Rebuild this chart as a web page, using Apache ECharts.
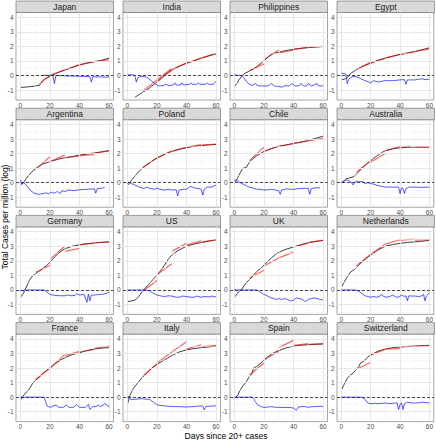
<!DOCTYPE html>
<html><head><meta charset="utf-8">
<script src="https://cdn.jsdelivr.net/npm/echarts@6/dist/echarts.min.js"></script>
<style>html,body{margin:0;padding:0;background:#fff}#c{width:436px;height:440px}</style>
</head><body><div id="c"></div>
<script>
const countries = ["Japan","India","Philippines","Egypt","Argentina","Poland","Chile","Australia","Germany","US","UK","Netherlands","France","Italy","Spain","Switzerland"];
const xTicks = [0,20,40,60];
const xMinor = [10,30,50];
const yTicks = [-1,0,1,2,3,4];
const yMinor = [-1.5,-0.5,0.5,1.5,2.5,3.5];

// Japan
const japanTotal = [[0,-0.82],[5,-0.78],[10,-0.72],[13,-0.66],[14,-0.5],[15,-0.38],[17,-0.2],[20,-0.05],[22,0.05],[25,0.18],[30,0.38],[35,0.55],[40,0.72],[45,0.85],[50,0.95],[55,1.05],[60,1.2]];
const japanFit = [[[13,-0.6],[16,-0.3],[20,-0.05]],[[20,0.02],[30,0.4]],[[30,0.4],[40,0.75]],[[40,0.75],[50,0.95]],[[50,0.95],[60,1.08]]];
const japanGrowth = [[14,0.0],[20,0.02],[22,0.0],[23,-0.55],[24,0.0],[30,-0.02],[40,-0.05],[47,-0.08],[48,-0.45],[49,-0.08],[55,-0.1],[60,-0.1]];
// India
const indiaTotal = [[5,-1.5],[8,-1.3],[11,-1.1],[13,-1.0],[15,-0.85],[18,-0.6],[20,-0.45],[23,-0.2],[25,0.0],[28,0.25],[30,0.4],[35,0.65],[40,0.85],[45,1.0],[50,1.2],[55,1.35],[60,1.5]];
const indiaFit = [[[10,-1.1],[30,0.5]],[[20,-0.4],[30,0.35],[40,0.85]],[[40,0.85],[50,1.2],[60,1.5]]];
const indiaGrowth = [[0,0.05],[4,0.05],[5,0.0],[6,-0.45],[7,-0.15],[9,-0.05],[13,-0.1],[16,-0.35],[19,-0.6],[21,-0.7],[24,-0.7],[26,-0.6],[28,-0.7],[31,-0.65],[32,-0.5],[33,-0.65],[36,-0.65],[37,-0.5],[38,-0.65],[42,-0.6],[43,-0.5],[44,-0.6],[47,-0.6],[48,-0.5],[49,-0.6],[53,-0.6],[54,-0.5],[55,-0.6],[58,-0.6],[60,-0.4]];
// Philippines
const philippinesTotal = [[0,-0.75],[2,-0.5],[3,-0.3],[5,-0.05],[7,0.15],[10,0.3],[12,0.4],[15,0.6],[18,0.85],[20,1.0],[23,1.3],[26,1.5],[30,1.6],[35,1.72],[40,1.8],[45,1.87],[50,1.92],[55,1.96],[60,2.0]];
const philippinesFit = [[[10,0.35],[20,0.8]],[[20,1.1],[30,1.75]],[[30,1.55],[40,1.75]],[[40,1.8],[50,1.93]],[[50,1.93],[60,2.0]]];
const philippinesGrowth = [[0,0.05],[3,0.0],[5,0.0],[6,-0.1],[8,-0.4],[10,-0.6],[12,-0.68],[14,-0.55],[16,-0.7],[20,-0.72],[23,-0.7],[25,-0.55],[27,-0.72],[30,-0.75],[32,-0.8],[34,-0.7],[37,-0.72],[39,-0.55],[41,-0.72],[44,-0.7],[45,-0.55],[47,-0.72],[49,-0.7],[50,-0.55],[52,-0.72],[55,-0.6],[56,-0.55],[57,-0.72],[60,-0.7]];
// Egypt
const egyptTotal = [[0,-0.3],[2,-0.25],[3,-0.2],[4,-0.15],[5,0.0],[7,0.2],[8,0.25],[10,0.4],[13,0.55],[15,0.65],[20,0.85],[25,1.05],[30,1.2],[35,1.33],[40,1.45],[45,1.55],[50,1.65],[55,1.78],[60,1.9]];
const egyptFit = [[[10,0.4],[20,0.92]],[[20,0.85],[30,1.2]],[[30,1.2],[40,1.45]],[[40,1.45],[50,1.62]],[[50,1.65],[60,1.82]]];
const egyptGrowth = [[0,0.15],[2,0.14],[3,0.1],[4,-0.55],[5,-0.25],[7,-0.1],[8,-0.05],[10,-0.08],[13,-0.2],[16,-0.35],[19,-0.45],[20,-0.5],[22,-0.35],[25,-0.45],[28,-0.38],[30,-0.35],[35,-0.35],[40,-0.3],[43,-0.28],[44,-0.6],[45,-0.3],[50,-0.3],[53,-0.25],[55,-0.22],[57,-0.28],[60,-0.25]];
// Argentina
const argentinaTotal = [[0,-0.15],[2,0.0],[4,0.3],[6,0.55],[8,0.78],[10,0.95],[12,1.1],[15,1.28],[20,1.45],[25,1.6],[30,1.72],[35,1.8],[40,1.9],[45,1.97],[50,2.05],[55,2.12],[60,2.2]];
const argentinaFit = [[[10,0.9],[20,1.78]],[[20,1.45],[30,1.9]],[[30,1.7],[40,1.85]],[[40,1.85],[50,1.95]],[[50,2.02],[60,2.2]]];
const argentinaGrowth = [[0,0.2],[1,-0.1],[2,0.0],[3,-0.05],[5,-0.3],[7,-0.55],[9,-0.7],[12,-0.8],[15,-0.75],[17,-0.7],[19,-0.75],[21,-0.65],[23,-0.72],[25,-0.6],[27,-0.75],[28,-0.55],[30,-0.6],[33,-0.5],[36,-0.55],[40,-0.48],[45,-0.45],[50,-0.42],[51,-0.72],[52,-0.4],[55,-0.38],[57,-0.32]];
// Poland
const polandTotal = [[0,-0.2],[1,-0.05],[3,0.2],[5,0.45],[8,0.8],[10,1.0],[13,1.25],[15,1.38],[20,1.7],[25,1.95],[30,2.15],[35,2.3],[40,2.4],[45,2.5],[50,2.55],[55,2.6],[60,2.63]];
const polandFit = [[[10,1.0],[20,1.72]],[[20,1.7],[30,2.2]],[[30,2.15],[40,2.45]],[[40,2.45],[50,2.62]],[[50,2.58],[60,2.66]]];
const polandGrowth = [[0,-0.05],[1,0.05],[2,-0.05],[4,-0.1],[6,-0.2],[8,-0.3],[11,-0.4],[13,-0.3],[15,-0.38],[18,-0.45],[20,-0.38],[22,-0.45],[25,-0.5],[28,-0.45],[30,-0.5],[33,-0.48],[34,-0.9],[35,-0.5],[38,-0.45],[40,-0.45],[42,-0.3],[43,-0.25],[45,-0.35],[48,-0.4],[50,-0.45],[51,-0.85],[52,-0.45],[54,-0.3],[57,-0.3],[60,-0.15]];
// Chile
const chileTotal = [[0,0.0],[1,0.1],[2,0.3],[4,0.7],[5,0.9],[6,1.0],[8,1.05],[10,1.4],[12,1.6],[15,1.85],[20,2.15],[25,2.35],[30,2.5],[35,2.6],[40,2.7],[45,2.8],[50,2.9],[55,3.05],[60,3.2]];
const chileFit = [[[10,1.5],[20,2.45]],[[20,2.15],[30,2.52]],[[30,2.5],[40,2.68]],[[40,2.7],[50,2.85]],[[50,2.88],[60,3.05]]];
const chileGrowth = [[0,0.15],[1,0.2],[3,0.05],[5,-0.05],[8,-0.2],[10,-0.3],[13,-0.38],[15,-0.45],[18,-0.45],[20,-0.5],[23,-0.48],[25,-0.45],[28,-0.5],[30,-0.55],[31,-0.8],[32,-0.5],[35,-0.42],[38,-0.45],[40,-0.45],[43,-0.4],[45,-0.4],[48,-0.38],[50,-0.4],[51,-0.8],[52,-0.4],[55,-0.35],[58,-0.35]];
// Australia
const australiaTotal = [[0,0.0],[2,0.15],[3,0.25],[5,0.32],[8,0.4],[10,0.55],[12,0.78],[15,1.1],[18,1.35],[20,1.5],[22,1.68],[25,1.9],[28,2.1],[30,2.2],[35,2.33],[40,2.4],[45,2.43],[50,2.45],[55,2.45],[60,2.45]];
const australiaFit = [[[10,0.7],[20,1.52]],[[20,1.4],[30,2.02]],[[30,2.2],[40,2.5]],[[40,2.45],[47,2.52]],[[50,2.45],[60,2.45]]];
const australiaGrowth = [[0,0.0],[2,0.1],[3,0.2],[5,0.15],[7,0.0],[8,-0.15],[9,0.0],[10,0.1],[12,0.05],[14,0.1],[16,-0.05],[18,0.0],[20,-0.05],[22,-0.1],[25,-0.2],[28,-0.25],[30,-0.3],[35,-0.3],[39,-0.3],[40,-0.75],[41,-0.35],[42,-0.4],[43,-0.75],[44,-0.4],[46,-0.3],[50,-0.3],[55,-0.32],[60,-0.3]];
// Germany
const germanyTotal = [[0,-0.5],[2,-0.25],[3,0.0],[4,0.2],[6,0.65],[8,0.95],[10,1.1],[12,1.25],[15,1.45],[18,1.7],[20,1.9],[23,2.25],[25,2.45],[28,2.7],[30,2.82],[35,3.0],[40,3.1],[45,3.18],[50,3.22],[55,3.27],[60,3.3]];
const germanyFit = [[[10,1.2],[20,1.68]],[[20,2.1],[30,3.0]],[[30,2.65],[40,2.85]],[[40,3.1],[50,3.22]],[[50,3.24],[60,3.3]]];
const germanyGrowth = [[0,-0.05],[2,-0.05],[3,0.0],[10,0.0],[16,0.0],[18,-0.15],[20,-0.3],[23,-0.38],[27,-0.4],[30,-0.4],[32,-0.35],[34,-0.4],[37,-0.38],[38,-0.25],[40,-0.35],[43,-0.3],[45,-0.85],[46,-0.3],[47,-0.75],[48,-0.35],[50,-0.35],[53,-0.32],[55,-0.3],[58,-0.25],[60,-0.15]];
// US
const usTotal = [[0,-0.8],[3,-0.75],[5,-0.7],[7,-0.55],[8,-0.4],[10,-0.1],[12,0.1],[15,0.45],[18,0.8],[20,1.0],[23,1.4],[25,1.7],[28,2.15],[30,2.4],[35,2.75],[40,3.0],[45,3.15],[50,3.25],[55,3.35],[60,3.45]];
const usFit = [[[10,-0.1],[20,0.65]],[[20,1.05],[30,1.8]],[[30,2.65],[40,3.2]],[[40,3.1],[50,3.37]],[[50,3.28],[60,3.45]]];
const usGrowth = [[0,0.0],[10,0.0],[13,-0.02],[15,-0.05],[17,-0.2],[20,-0.35],[23,-0.42],[25,-0.45],[28,-0.4],[30,-0.42],[33,-0.5],[35,-0.5],[37,-0.42],[40,-0.45],[43,-0.5],[45,-0.5],[47,-0.42],[50,-0.5],[52,-0.45],[55,-0.48],[57,-0.42],[60,-0.48]];
// UK
const ukTotal = [[0,-0.5],[2,-0.25],[3,-0.1],[5,0.05],[7,0.35],[8,0.5],[10,0.7],[12,0.9],[15,1.25],[18,1.5],[20,1.7],[23,2.0],[25,2.2],[28,2.45],[30,2.58],[35,2.8],[40,2.95],[45,3.1],[50,3.25],[55,3.33],[60,3.4]];
const ukFit = [[[10,0.8],[20,1.35]],[[20,1.65],[30,2.2]],[[30,2.2],[40,2.6]],[[40,2.95],[50,3.22]],[[50,3.25],[60,3.42]]];
const ukGrowth = [[0,0.0],[15,0.0],[17,-0.1],[19,-0.25],[21,-0.35],[23,-0.45],[25,-0.55],[27,-0.6],[28,-0.65],[30,-0.6],[32,-0.65],[34,-0.6],[36,-0.65],[38,-0.75],[40,-0.7],[42,-0.55],[44,-0.6],[46,-0.65],[48,-0.8],[50,-0.65],[52,-0.6],[54,-0.55],[56,-0.6],[58,-0.65],[60,-0.7]];
// Netherlands
const netherlandsTotal = [[0,0.2],[2,0.55],[4,0.9],[6,1.2],[8,1.35],[10,1.5],[12,1.75],[15,2.0],[18,2.25],[20,2.4],[23,2.6],[25,2.75],[28,2.9],[30,3.0],[35,3.12],[40,3.2],[45,3.27],[50,3.3],[55,3.35],[60,3.4]];
const netherlandsFit = [[[10,1.65],[20,2.45]],[[20,2.45],[30,3.15]],[[30,3.15],[40,3.45]],[[40,3.4],[50,3.5]],[[50,3.42],[60,3.45]]];
const netherlandsGrowth = [[0,0.0],[10,0.0],[12,-0.1],[14,-0.25],[16,-0.4],[18,-0.45],[20,-0.5],[22,-0.45],[24,-0.5],[26,-0.45],[27,-0.3],[29,-0.45],[31,-0.5],[33,-0.45],[35,-0.35],[37,-0.48],[39,-0.5],[41,-0.35],[43,-0.45],[44,-0.4],[45,-0.75],[46,-0.4],[48,-0.42],[50,-0.42],[53,-0.45],[55,-0.4],[56,-0.3],[57,-0.75],[58,-0.4],[60,-0.2]];
// France
const franceTotal = [[0,-0.2],[2,0.1],[4,0.35],[6,0.55],[8,0.9],[10,1.15],[12,1.3],[15,1.6],[18,1.85],[20,2.0],[23,2.25],[25,2.4],[28,2.6],[30,2.7],[35,2.92],[40,3.05],[45,3.2],[50,3.3],[55,3.37],[60,3.4]];
const franceFit = [[[10,1.2],[20,2.0]],[[20,2.0],[30,2.9]],[[30,2.85],[40,3.15]],[[40,3.1],[50,3.28]],[[50,3.35],[60,3.5]]];
const franceGrowth = [[0,0.0],[16,0.0],[17,-0.3],[18,-0.6],[20,-0.7],[22,-0.62],[24,-0.55],[26,-0.7],[29,-0.7],[31,-0.55],[33,-0.7],[36,-0.7],[38,-0.5],[40,-0.7],[44,-0.7],[46,-0.5],[47,-0.85],[49,-0.65],[51,-0.65],[53,-0.55],[54,-0.65],[56,-0.55],[57,-0.45],[59,-0.55],[60,-0.7]];
// Italy
const italyTotal = [[0,-0.5],[1,-0.1],[2,0.2],[4,0.6],[6,0.85],[8,1.1],[10,1.35],[13,1.65],[15,1.85],[18,2.1],[20,2.25],[25,2.55],[30,2.85],[35,3.1],[40,3.25],[45,3.33],[50,3.4],[55,3.45],[60,3.5]];
const italyFit = [[[10,1.4],[20,2.3]],[[20,2.35],[30,3.1]],[[30,3.1],[40,3.8]],[[40,3.3],[50,3.6]],[[50,3.45],[60,3.55]]];
const italyGrowth = [[0,0.0],[1,0.05],[2,-0.15],[5,-0.15],[8,-0.12],[10,-0.1],[13,-0.15],[15,-0.15],[17,-0.3],[19,-0.45],[21,-0.55],[25,-0.6],[30,-0.65],[35,-0.65],[40,-0.68],[45,-0.65],[50,-0.6],[51,-0.62],[52,-0.88],[53,-0.65],[56,-0.62],[60,-0.6]];
// Spain
const spainTotal = [[0,-0.1],[2,0.1],[4,0.5],[6,0.8],[8,1.05],[10,1.4],[12,1.65],[13,2.0],[15,2.1],[18,2.35],[20,2.55],[23,2.8],[25,2.95],[28,3.12],[30,3.2],[35,3.38],[40,3.5],[45,3.57],[50,3.6],[55,3.63],[60,3.65]];
const spainFit = [[[10,1.5],[20,2.35]],[[20,2.55],[30,3.15]],[[30,3.4],[40,3.9]],[[40,3.55],[50,3.67]],[[50,3.62],[60,3.67]]];
const spainGrowth = [[0,0.0],[12,0.0],[13,-0.1],[14,-0.3],[16,-0.55],[18,-0.65],[20,-0.7],[23,-0.68],[25,-0.65],[28,-0.7],[30,-0.7],[33,-0.72],[35,-0.7],[38,-0.72],[40,-0.75],[42,-0.9],[43,-0.7],[45,-0.65],[48,-0.65],[50,-0.7],[53,-0.65],[55,-0.65],[58,-0.62],[60,-0.65]];
// Switzerland
const switzerlandTotal = [[0,0.5],[2,0.9],[4,1.3],[6,1.5],[8,1.65],[10,1.9],[12,2.1],[13,2.35],[15,2.45],[18,2.75],[20,2.9],[23,3.05],[25,3.15],[28,3.25],[30,3.3],[35,3.4],[40,3.45],[45,3.48],[50,3.5],[55,3.53],[60,3.55]];
const switzerlandFit = [[[10,1.9],[20,2.4]],[[20,2.9],[30,3.3]],[[30,3.3],[40,3.35]],[[40,3.45],[50,3.5]],[[50,3.5],[60,3.55]]];
const switzerlandGrowth = [[0,0.0],[14,0.0],[16,-0.15],[18,-0.4],[20,-0.45],[23,-0.42],[25,-0.45],[28,-0.42],[30,-0.4],[33,-0.45],[35,-0.42],[38,-0.4],[39,-0.85],[40,-0.5],[41,-0.4],[42,-0.85],[43,-0.45],[45,-0.35],[48,-0.4],[50,-0.4],[53,-0.38],[55,-0.35],[58,-0.38],[60,-0.4]];

const totals = [japanTotal,indiaTotal,philippinesTotal,egyptTotal,argentinaTotal,polandTotal,chileTotal,australiaTotal,germanyTotal,usTotal,ukTotal,netherlandsTotal,franceTotal,italyTotal,spainTotal,switzerlandTotal];
const fits = [japanFit,indiaFit,philippinesFit,egyptFit,argentinaFit,polandFit,chileFit,australiaFit,germanyFit,usFit,ukFit,netherlandsFit,franceFit,italyFit,spainFit,switzerlandFit];
const growths = [japanGrowth,indiaGrowth,philippinesGrowth,egyptGrowth,argentinaGrowth,polandGrowth,chileGrowth,australiaGrowth,germanyGrowth,usGrowth,ukGrowth,netherlandsGrowth,franceGrowth,italyGrowth,spainGrowth,switzerlandGrowth];

const FONT = '"Liberation Sans", Arial, sans-serif';
const chart = echarts.init(document.getElementById('c'), null, {renderer: 'svg'});
const grids = [], xAxes = [], yAxes = [], series = [], graphics = [];
const W = 97.5, H = 87.5, STRIP = 11.5;

countries.forEach((name, i) => {
  const r = Math.floor(i / 4), c = i % 4;
  const left = 16 + c * 107, top = 12.5 + r * 107.2;
  grids.push({left: left, top: top, width: W, height: H, show: true, backgroundColor: '#fff', borderColor: '#666', borderWidth: 0.6});
  graphics.push({type: 'rect', silent: true, shape: {x: left, y: top - STRIP, width: W, height: STRIP},
    style: {fill: '#D9D9D9', stroke: '#666', lineWidth: 0.6}});
  graphics.push({type: 'text', silent: true, x: left + W / 2, y: top - STRIP / 2,
    style: {text: name, fill: '#1A1A1A', font: '8.5px ' + FONT, align: 'center', verticalAlign: 'middle', textAlign: 'center', textVerticalAlign: 'middle'}});
  xAxes.push({gridIndex: i, type: 'value', min: -3, max: 63,
    axisLine: {show: false},
    axisTick: {show: true, length: 2, customValues: xTicks, lineStyle: {color: '#444', width: 0.6}},
    axisLabel: {customValues: xTicks, fontSize: 6.5, color: '#4D4D4D', margin: 1.5, fontFamily: FONT},
    splitLine: {show: false}});
  yAxes.push({gridIndex: i, type: 'value', min: -1.68, max: 4.33,
    axisLine: {show: false},
    axisTick: {show: true, length: 2, customValues: yTicks, lineStyle: {color: '#444', width: 0.6}},
    axisLabel: {customValues: yTicks, fontSize: 6.5, color: '#4D4D4D', margin: 2.5, fontFamily: FONT},
    splitLine: {show: false}});
  const gridLines = [];
  xMinor.forEach(v => gridLines.push({xAxis: v, lineStyle: {color: '#F0F0F0', width: 0.5, type: 'solid'}}));
  yMinor.forEach(v => gridLines.push({yAxis: v, lineStyle: {color: '#F0F0F0', width: 0.5, type: 'solid'}}));
  xTicks.forEach(v => gridLines.push({xAxis: v, lineStyle: {color: '#E4E4E4', width: 0.9, type: 'solid'}}));
  yTicks.forEach(v => gridLines.push({yAxis: v, lineStyle: {color: '#E4E4E4', width: 0.9, type: 'solid'}}));
  series.push({type: 'line', xAxisIndex: i, yAxisIndex: i, data: [[0, 0]], symbol: 'none', silent: true, z: 1,
    lineStyle: {opacity: 0},
    markLine: {silent: true, symbol: ['none', 'none'], label: {show: false}, animation: false, data: gridLines}});
  series.push({type: 'line', xAxisIndex: i, yAxisIndex: i, data: [[0, 0]], symbol: 'none', silent: true, z: 2,
    lineStyle: {opacity: 0},
    markLine: {silent: true, symbol: ['none', 'none'], label: {show: false}, animation: false,
      data: [{yAxis: 0, lineStyle: {color: '#222', width: 0.8, type: [3, 2]}}]}});
  series.push({type: 'line', xAxisIndex: i, yAxisIndex: i, data: totals[i], symbol: 'none', z: 3,
    lineStyle: {color: 'rgba(0,0,0,0.75)', width: 1}});
  fits[i].forEach(seg => series.push({type: 'line', xAxisIndex: i, yAxisIndex: i, data: seg, symbol: 'none', smooth: true, z: 4,
    lineStyle: {color: 'rgba(255,0,0,0.6)', width: 1.2}}));
  series.push({type: 'line', xAxisIndex: i, yAxisIndex: i, data: growths[i], symbol: 'none', z: 5,
    lineStyle: {color: 'rgba(0,0,255,0.65)', width: 1}});
});

graphics.push({type: 'text', silent: true, x: 5, y: 217, rotation: Math.PI / 2,
  style: {text: 'Total Cases per million (log)', fill: '#000', font: '8.5px ' + FONT, align: 'center', verticalAlign: 'middle', textAlign: 'center', textVerticalAlign: 'middle'}});
graphics.push({type: 'text', silent: true, x: 226, y: 435.5,
  style: {text: 'Days since 20+ cases', fill: '#000', font: '8.5px ' + FONT, align: 'center', verticalAlign: 'middle', textAlign: 'center', textVerticalAlign: 'middle'}});

chart.setOption({animation: false, backgroundColor: '#fff', grid: grids, xAxis: xAxes, yAxis: yAxes, series: series, graphic: graphics});
</script></body></html>
